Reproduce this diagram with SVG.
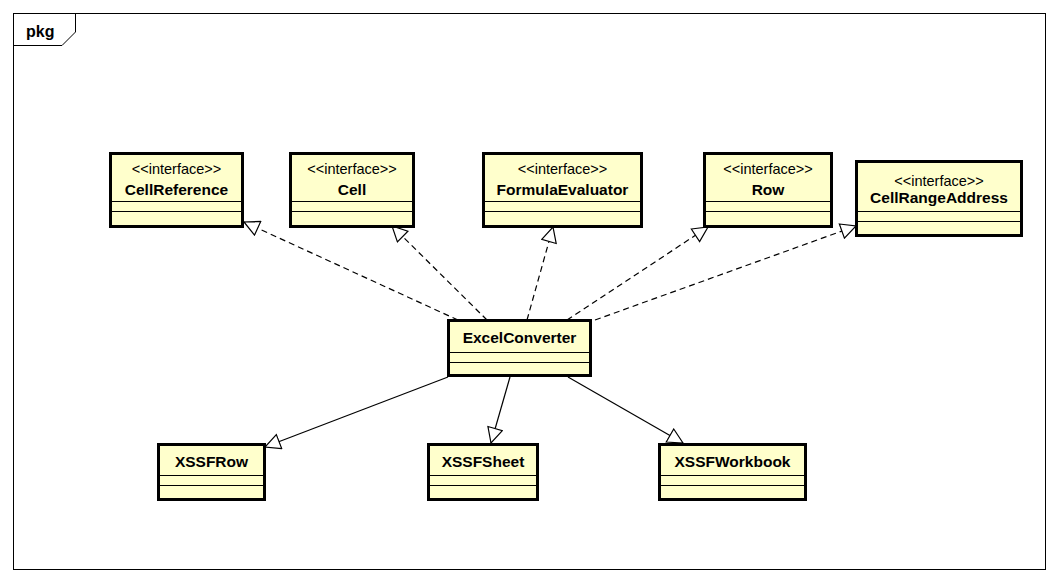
<svg xmlns="http://www.w3.org/2000/svg" width="1058" height="584" viewBox="0 0 1058 584">
<style>
.box{fill:#FFFFCC;stroke:#000;stroke-width:3}
.sep{stroke:#000;stroke-width:1}
.st{font-family:"Liberation Sans",Arial,sans-serif;font-size:14.5px;text-anchor:middle;fill:#000}
.nm{font-family:"Liberation Sans",Arial,sans-serif;font-size:15.5px;font-weight:bold;text-anchor:middle;fill:#000}
.dash{fill:none;stroke:#000;stroke-width:1.2;stroke-dasharray:6,4;marker-end:url(#tri)}
.solid{fill:none;stroke:#000;stroke-width:1.2;marker-end:url(#tri)}
</style>
<defs>
<marker id="tri" markerUnits="userSpaceOnUse" viewBox="0 0 17 17" refX="16" refY="8.5" markerWidth="17" markerHeight="17" orient="auto">
<path d="M1,1 L16,8.5 L1,16 Z" fill="#fff" stroke="#000" stroke-width="1.2"/>
</marker>
</defs>
<rect width="1058" height="584" fill="#fff"/>
<g id="frame">
<rect x="13.5" y="13.5" width="1032" height="556" fill="none" stroke="#000" stroke-width="1"/>
<path d="M13.5,45.5 L62,45.5 L75.5,32 L75.5,13.5" fill="none" stroke="#000" stroke-width="1"/>
<text x="26" y="37" style="font-family:'Liberation Sans',Arial,sans-serif;font-size:16px;font-weight:bold">pkg</text>
</g>
<g id="connectors">
<line class="dash" x1="458" y1="320" x2="244" y2="222"/>
<line class="dash" x1="487" y1="320" x2="392" y2="226"/>
<line class="dash" x1="527" y1="320" x2="553" y2="227"/>
<line class="dash" x1="567" y1="320" x2="708" y2="227"/>
<line class="dash" x1="595" y1="320" x2="856" y2="226"/>
<line class="solid" x1="448" y1="377" x2="265" y2="447"/>
<line class="solid" x1="510" y1="377" x2="491" y2="443"/>
<line class="solid" x1="568" y1="377" x2="683" y2="443"/>
</g>
<g id="CellReference">
<rect class="box" x="110.5" y="153.5" width="132" height="73"/>
<line class="sep" x1="110" y1="201.5" x2="243" y2="201.5"/>
<line class="sep" x1="110" y1="211.5" x2="243" y2="211.5"/>
<text class="st" x="176.5" y="174">&lt;&lt;interface&gt;&gt;</text>
<text class="nm" x="176.5" y="195">CellReference</text>
</g>
<g id="Cell">
<rect class="box" x="290.5" y="153.5" width="123" height="73"/>
<line class="sep" x1="290" y1="201.5" x2="414" y2="201.5"/>
<line class="sep" x1="290" y1="211.5" x2="414" y2="211.5"/>
<text class="st" x="352" y="174">&lt;&lt;interface&gt;&gt;</text>
<text class="nm" x="352" y="195">Cell</text>
</g>
<g id="FormulaEvaluator">
<rect class="box" x="483.5" y="153.5" width="158" height="73"/>
<line class="sep" x1="483" y1="201.5" x2="642" y2="201.5"/>
<line class="sep" x1="483" y1="211.5" x2="642" y2="211.5"/>
<text class="st" x="562.5" y="174">&lt;&lt;interface&gt;&gt;</text>
<text class="nm" x="562.5" y="195">FormulaEvaluator</text>
</g>
<g id="Row">
<rect class="box" x="704.5" y="153.5" width="127" height="73"/>
<line class="sep" x1="704" y1="201.5" x2="832" y2="201.5"/>
<line class="sep" x1="704" y1="211.5" x2="832" y2="211.5"/>
<text class="st" x="768" y="174">&lt;&lt;interface&gt;&gt;</text>
<text class="nm" x="768" y="195">Row</text>
</g>
<g id="CellRangeAddress">
<rect class="box" x="856.5" y="161.5" width="165" height="74"/>
<line class="sep" x1="856" y1="211.5" x2="1022" y2="211.5"/>
<line class="sep" x1="856" y1="221.5" x2="1022" y2="221.5"/>
<text class="st" x="939" y="186">&lt;&lt;interface&gt;&gt;</text>
<text class="nm" x="939" y="203">CellRangeAddress</text>
</g>
<g id="ExcelConverter">
<rect class="box" x="448.5" y="320.5" width="142" height="55"/>
<line class="sep" x1="448" y1="352.5" x2="591" y2="352.5"/>
<line class="sep" x1="448" y1="362.5" x2="591" y2="362.5"/>
<text class="nm" x="519.5" y="343">ExcelConverter</text>
</g>
<g id="XSSFRow">
<rect class="box" x="158.5" y="444.5" width="106" height="55"/>
<line class="sep" x1="158" y1="475.5" x2="265" y2="475.5"/>
<line class="sep" x1="158" y1="485.5" x2="265" y2="485.5"/>
<text class="nm" x="211.5" y="467">XSSFRow</text>
</g>
<g id="XSSFSheet">
<rect class="box" x="428.5" y="444.5" width="109" height="55"/>
<line class="sep" x1="428" y1="475.5" x2="538" y2="475.5"/>
<line class="sep" x1="428" y1="485.5" x2="538" y2="485.5"/>
<text class="nm" x="483" y="467">XSSFSheet</text>
</g>
<g id="XSSFWorkbook">
<rect class="box" x="659.5" y="444.5" width="146" height="55"/>
<line class="sep" x1="659" y1="475.5" x2="806" y2="475.5"/>
<line class="sep" x1="659" y1="485.5" x2="806" y2="485.5"/>
<text class="nm" x="732.5" y="467">XSSFWorkbook</text>
</g>
</svg>
